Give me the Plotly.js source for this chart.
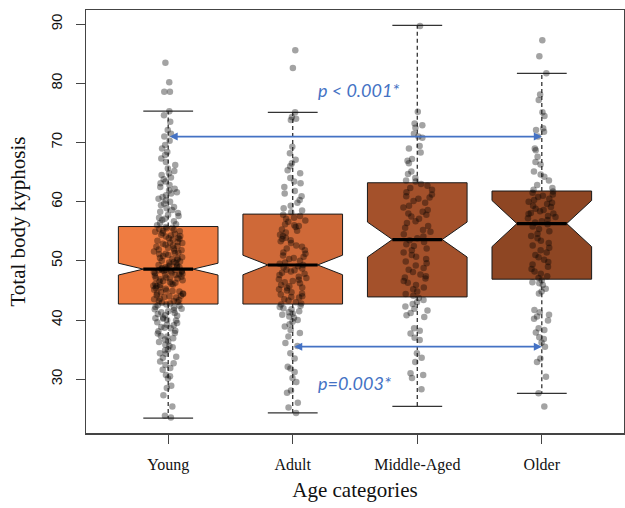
<!DOCTYPE html>
<html>
<head>
<meta charset="utf-8">
<script src="https://cdn.plot.ly/plotly-3.0.1.min.js"></script>
<style>html,body{margin:0;padding:0;background:#fff;}#chart{width:625px;height:508px;}</style>
</head>
<body>
<div id="chart"></div>
<script>
// ---- data ----
var categories = ["Young", "Adult", "Middle-Aged", "Older"];
var boxColors = ["#EF7C41", "#CF6938", "#A4512B", "#8E4623"];

var q1Values      = [42.7, 42.7, 43.9, 46.9];
var medianValues  = [48.6, 49.3, 53.6, 56.3];
var q3Values      = [55.8, 57.9, 63.2, 61.8];
var lowerWhisker  = [23.4, 24.3, 25.4, 27.6];
var upperWhisker  = [75.3, 75.1, 89.8, 81.7];
var notchSpans    = [1.0, 1.65, 2.95, 3.9];

var youngValues = [
  23.5, 23.8, 25.4, 27.3, 28.5, 28.9, 30.1, 30.5, 30.7, 31.6, 31.9, 32.4, 32.7, 33.0, 33.6, 33.8, 34.3, 34.4, 34.9, 35.0,
  35.4, 35.6, 35.8, 36.3, 36.4, 36.7, 36.9, 37.2, 37.3, 37.7, 37.8, 38.1, 38.2, 38.6, 38.7, 38.8, 39.1, 39.2, 39.5, 39.6,
  39.9, 40.0, 40.2, 40.3, 40.4, 40.7, 40.8, 41.0, 41.2, 41.3, 41.5, 41.7, 41.8, 41.9, 42.1, 42.2, 42.4, 42.5, 42.6,
  42.8, 42.9, 43.1, 43.2, 43.2, 43.5, 43.6, 43.8, 43.9, 44.1, 44.2, 44.4, 44.5, 44.5, 44.8, 44.9, 45.0, 45.3, 45.4, 45.5,
  45.7, 45.8, 46.0, 46.1, 46.1, 46.3, 46.5, 46.6, 46.7, 46.9, 47.0, 47.0, 47.2, 47.3, 47.5, 47.6, 47.6, 47.8, 47.9, 48.0,
  48.1, 48.2, 48.3, 48.3, 48.4, 48.5, 48.5, 48.6, 43.4, 44.0, 44.7, 45.1, 45.9, 46.4, 47.1, 47.7, 48.2, 48.4,
  48.7, 48.8, 48.9, 49.0, 49.1, 49.3, 49.4, 49.6, 49.7, 49.9, 50.0, 50.2, 50.3, 50.5, 50.6, 50.8, 51.0, 51.1, 51.3, 51.4,
  51.6, 51.8, 51.9, 52.1, 52.2, 52.4, 52.6, 52.7, 52.9, 53.1, 53.2, 53.4, 53.6, 53.7, 53.9, 54.1, 54.2, 54.4, 54.6, 54.7,
  54.9, 55.1, 55.2, 55.4, 55.6, 55.7, 49.2, 49.8, 50.4, 51.2, 51.7, 52.5, 53.0, 53.8, 54.3, 55.0, 55.5, 48.9,
  56.0, 56.2, 56.4, 56.7, 56.9, 57.1, 57.3, 57.6, 57.8, 58.1, 58.3, 58.6, 58.9, 59.1, 59.4, 59.7, 60.0, 60.2, 60.5, 60.8,
  61.1, 61.4, 61.6, 61.9, 62.2, 62.5, 62.8, 63.1, 63.4, 63.8, 64.1, 64.5, 64.8, 65.2, 65.6, 66.2, 66.7, 67.3, 67.9, 68.4,
  69.0, 69.6, 70.3, 71.0, 71.5, 72.1, 73.5, 74.6, 75.3, 78.6, 78.6, 80.2, 83.5
];
var adultValues = [
  24.3, 25.2, 26.0, 27.7, 28.1, 29.5, 30.2, 31.2, 31.8, 32.1, 33.5, 34.4, 35.6, 36.1, 37.2, 37.8, 38.3, 38.9, 39.3, 39.7,
  40.0, 40.4, 40.6, 40.9, 41.3, 41.5, 41.8, 42.0, 42.2, 42.4, 42.6, 41.1,
  42.8, 43.0, 43.3, 43.5, 43.8, 44.0, 44.3, 44.5, 44.7, 45.0, 45.2, 45.5, 45.7, 45.9, 46.2, 46.4, 46.6, 46.9, 47.1, 47.3,
  47.6, 47.8, 48.0, 48.2, 48.5, 48.7, 48.9, 49.1, 49.3, 43.9, 45.4, 46.8, 48.4,
  49.5, 49.7, 50.0, 50.3, 50.5, 50.9, 51.2, 51.4, 51.8, 52.1, 52.4, 52.6, 53.0, 53.3, 53.5, 53.9, 54.2, 54.4, 54.8, 55.1,
  55.3, 55.7, 56.0, 56.2, 56.6, 56.8, 57.1, 57.3, 57.6, 57.8, 50.7, 53.7, 55.9,
  58.2, 58.5, 58.9, 59.3, 59.8, 60.3, 60.9, 61.4, 61.8, 62.5, 63.1, 63.4, 64.0, 64.8, 65.3, 66.0, 66.5, 67.1, 68.2, 69.3,
  73.8, 74.0, 74.3, 75.1, 82.6, 85.6
];
var middleAgedValues = [
  28.3, 30.2, 30.7, 31.0, 32.9, 33.6, 34.4, 36.6, 37.0, 37.7, 38.2, 38.6, 40.5, 40.8, 41.2, 41.6, 41.9, 42.3, 42.7, 43.0,
  43.4, 43.7,
  44.1, 44.4, 44.8, 45.2, 45.5, 45.9, 46.3, 46.6, 47.0, 47.4, 47.7, 48.1, 48.5, 48.8, 49.2, 49.6, 49.9, 50.3, 50.7, 51.0,
  51.4, 51.8, 52.1, 52.5, 52.8, 53.2, 53.5, 47.2,
  53.8, 54.1, 54.5, 54.9, 55.2, 55.6, 55.9, 56.4, 56.7, 57.1, 57.5, 57.8, 58.3, 58.6, 59.0, 59.3, 59.8, 60.1, 60.5, 60.9,
  61.2, 61.6, 62.0, 62.3, 62.7, 63.0, 58.0, 60.7,
  63.4, 63.6, 64.0, 64.7, 65.1, 66.5, 66.9, 67.2, 68.3, 69.0, 69.4, 70.8, 71.0, 71.5, 72.5, 72.9, 73.2, 75.2, 89.7
];
var olderValues = [
  25.4, 27.6, 30.4, 32.9, 33.5, 35.5, 36.2, 36.8, 37.1, 37.9, 38.3, 38.6, 39.9, 40.2, 40.6, 40.9, 41.3, 41.7, 44.5, 44.8,
  45.3, 45.9, 46.2, 46.4, 46.7,
  47.1, 47.4, 47.8, 48.2, 48.6, 49.0, 49.4, 49.8, 50.2, 50.6, 51.0, 51.4, 51.8, 52.2, 52.6, 53.0, 53.4, 53.8, 54.2, 54.6,
  55.0, 55.4, 55.8, 56.2,
  56.5, 56.7, 56.9, 57.2, 57.4, 57.6, 57.9, 58.1, 58.4, 58.6, 58.8, 59.1, 59.3, 59.6, 59.8, 60.0, 60.3, 60.5, 60.8, 61.0,
  61.2, 61.5, 61.7, 58.0,
  62.0, 62.3, 62.8, 63.6, 64.2, 64.6, 65.1, 66.3, 66.7, 67.6, 68.7, 69.0, 71.0, 71.8, 72.1, 72.4, 74.5, 75.1, 77.2, 78.1,
  81.7, 84.6, 87.3
];
var groupValues = [youngValues, adultValues, middleAgedValues, olderValues];

// significance brackets: [from category index, to category index, y level, label]
var comparisonFrom   = [0, 1];
var comparisonTo     = [3, 3];
var comparisonLevel  = [71.0, 35.5];
var comparisonLabels = ["p < 0.001*", "p=0.003*"];
var comparisonLabelY = [78.9, 29.3];

// ---- build traces ----
var traces = [];
var positions = categories.map(function(c, i){ return i; });

// notched boxes
for (var i = 0; i < categories.length; i++) {
  traces.push({
    type: 'box', x: [i], q1: [q1Values[i]], median: [medianValues[i]], q3: [q3Values[i]],
    lowerfence: [q1Values[i]], upperfence: [q3Values[i]], notchspan: [notchSpans[i]],
    notched: true, notchwidth: 0.25, width: 0.8, whiskerwidth: 0,
    fillcolor: boxColors[i], line: {color: '#1a1a1a', width: 1},
    boxpoints: false, hoverinfo: 'skip', showlegend: false
  });
}
// dashed whiskers
var wx = [], wy = [];
for (var i = 0; i < categories.length; i++) {
  wx.push(i, i, null, i, i, null);
  wy.push(q3Values[i], upperWhisker[i], null, q1Values[i], lowerWhisker[i], null);
}
traces.push({type: 'scatter', mode: 'lines', x: wx, y: wy, line: {color: '#222', width: 1.2, dash: '4px,3px'},
  hoverinfo: 'skip', showlegend: false});
// whisker caps (zero-height boxes)
var capX = [], capV = [];
for (var i = 0; i < categories.length; i++) {
  capX.push(i, i); capV.push(lowerWhisker[i], upperWhisker[i]);
}
traces.push({type: 'box', x: capX, q1: capV, median: capV, q3: capV, lowerfence: capV, upperfence: capV,
  width: 0.4, whiskerwidth: 0, fillcolor: 'rgba(0,0,0,0)', line: {color: '#333', width: 1.2},
  hoverinfo: 'skip', showlegend: false});
// thick median lines (zero-height boxes at notch waist)
traces.push({type: 'box', x: positions, q1: medianValues, median: medianValues, q3: medianValues,
  lowerfence: medianValues, upperfence: medianValues,
  width: 0.4, whiskerwidth: 0, fillcolor: 'rgba(0,0,0,0)', line: {color: '#000', width: 3.2},
  hoverinfo: 'skip', showlegend: false});
// jittered points
for (var i = 0; i < categories.length; i++) {
  traces.push({
    type: 'box', y: groupValues[i], x0: i, width: 0.8, boxpoints: 'all', jitter: 0.3, pointpos: 0,
    fillcolor: 'rgba(0,0,0,0)', line: {color: 'rgba(0,0,0,0)', width: 0}, whiskerwidth: 0,
    marker: {color: 'rgba(0,0,0,0.36)', size: 6.5, line: {width: 0}},
    hoverinfo: 'y', showlegend: false
  });
}

var annotations = [];
for (var k = 0; k < comparisonFrom.length; k++) {
  annotations.push({
    x: comparisonTo[k], y: comparisonLevel[k], ax: comparisonFrom[k], ay: comparisonLevel[k],
    xref: 'x', yref: 'y', axref: 'x', ayref: 'y', text: '', showarrow: true,
    arrowhead: 2, arrowside: 'end+start', arrowsize: 1, arrowwidth: 1.6, arrowcolor: '#4472C4',
    standoff: 0, startstandoff: 0
  });
  annotations.push({
    x: 1.19, y: comparisonLabelY[k], xref: 'x', yref: 'y', xanchor: 'left', yanchor: 'middle',
    text: '<i>' + comparisonLabels[k] + '</i>', showarrow: false,
    font: {family: 'Lato, "Open Sans", sans-serif', size: 18, color: '#4472C4'}
  });
}

var layout = {
  width: 625, height: 508,
  margin: {l: 86, r: 1, t: 10, b: 75},
  paper_bgcolor: '#fff', plot_bgcolor: '#fff',
  boxmode: 'overlay',
  showlegend: false,
  xaxis: {
    range: [-0.66, 3.66], tickvals: positions, ticktext: categories,
    showgrid: false, zeroline: false, ticks: 'outside', ticklen: 9, tickcolor: '#444', tickwidth: 1,
    showline: true, mirror: true, linecolor: '#444', linewidth: 1.5,
    tickfont: {family: '"Liberation Serif", serif', size: 16, color: '#111'},
    ticklabelstandoff: 7,
    title: {text: 'Age categories', font: {family: '"Liberation Serif", serif', size: 21, color: '#111'}, standoff: 9}
  },
  yaxis: {
    range: [20.9, 92.4], tickvals: [30, 40, 50, 60, 70, 80, 90],
    showgrid: false, zeroline: false, ticks: 'outside', ticklen: 9, tickcolor: '#444', tickwidth: 1,
    showline: true, mirror: true, linecolor: '#444', linewidth: 1.5,
    tickangle: -90,
    tickfont: {family: '"Liberation Sans", Arial, sans-serif', size: 15, color: '#111'},
    ticklabelstandoff: 8,
    title: {text: 'Total body kyphosis', font: {family: '"Liberation Serif", serif', size: 21, color: '#111'}, standoff: 16}
  },
  annotations: annotations
};

Plotly.newPlot('chart', traces, layout, {displayModeBar: false, staticPlot: true});
</script>
</body>
</html>
